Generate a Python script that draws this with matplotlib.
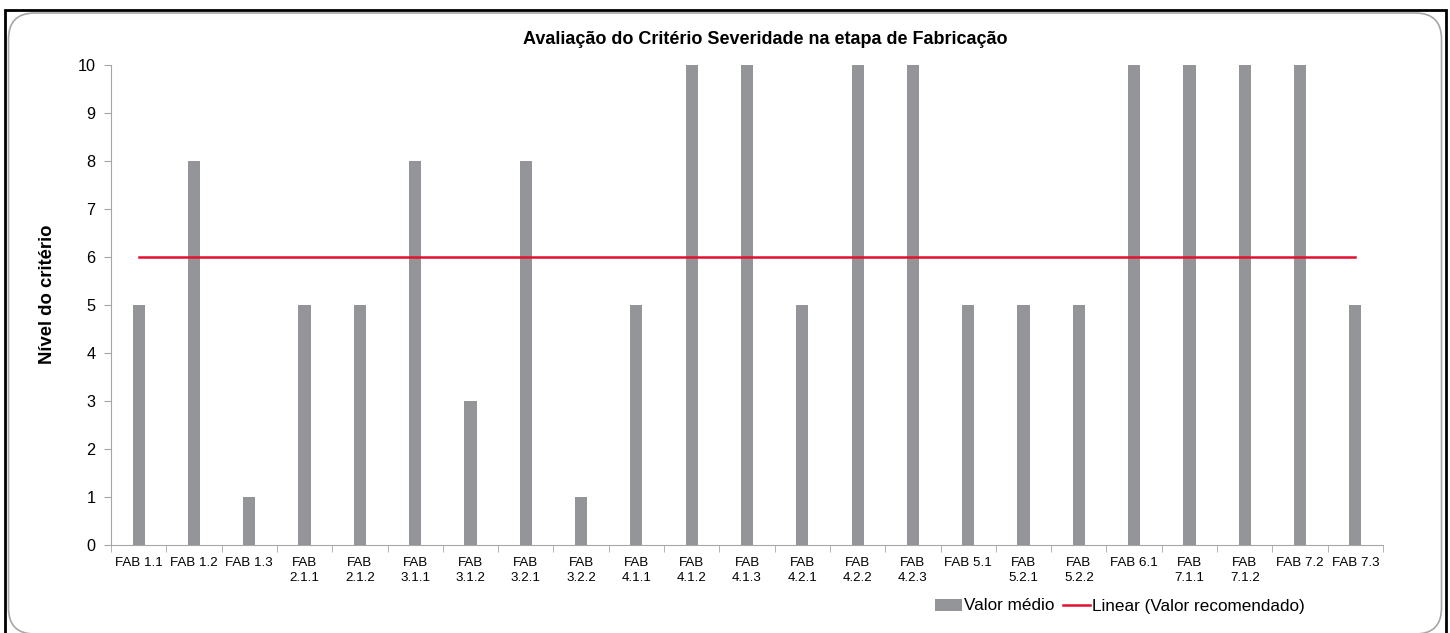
import matplotlib.pyplot as plt
from matplotlib.patches import FancyBboxPatch, Rectangle
from matplotlib.lines import Line2D
from matplotlib.patches import Patch

categorias = ["FAB 1.1", "FAB 1.2", "FAB 1.3", "FAB\n2.1.1", "FAB\n2.1.2",
              "FAB\n3.1.1", "FAB\n3.1.2", "FAB\n3.2.1", "FAB\n3.2.2", "FAB\n4.1.1",
              "FAB\n4.1.2", "FAB\n4.1.3", "FAB\n4.2.1", "FAB\n4.2.2", "FAB\n4.2.3",
              "FAB 5.1", "FAB\n5.2.1", "FAB\n5.2.2", "FAB 6.1", "FAB\n7.1.1",
              "FAB\n7.1.2", "FAB 7.2", "FAB 7.3"]
valor_medio = [5, 8, 1, 5, 5, 8, 3, 8, 1, 5, 10, 10, 5, 10, 10, 5, 5, 5, 10, 10, 10, 10, 5]
valor_recomendado = 6

plt.rcParams['font.family'] = ['Liberation Sans', 'DejaVu Sans']

W, H = 1450, 633
fig = plt.figure(figsize=(W / 100, H / 100), dpi=100)

# outer frame and rounded chart area (pixel coords converted to figure fractions)
fig.patches.append(Rectangle((5 / W, -0.01), 1441 / W, 1 - 10 / H + 0.01,
                             transform=fig.transFigure, fill=False,
                             edgecolor='black', linewidth=2.0))
fig.patches.append(FancyBboxPatch((8.5 / W, 1 - 634 / H), 1433 / W, 621 / H,
                                  boxstyle="round,pad=0,rounding_size=0.018",
                                  transform=fig.transFigure, fill=False,
                                  edgecolor='#a6a6a6', linewidth=1.2,
                                  mutation_aspect=W / H))

ax = fig.add_axes([111 / W, 1 - 545 / H, 1272 / W, 480 / H])
x = list(range(len(categorias)))
ax.bar(x, valor_medio, width=0.22, color='#939598', zorder=2)
ax.plot([x[0], x[-1]], [valor_recomendado, valor_recomendado],
        color='#e2102e', linewidth=1.8, zorder=3)

ax.set_xlim(-0.5, len(categorias) - 0.5)
ax.set_ylim(0, 10)
ax.set_yticks(range(0, 11))
ax.tick_params(axis='y', labelsize=11.7, length=5, color='#a6a6a6', pad=6)

ax.set_xticks(x)
ax.set_xticklabels(categorias, fontsize=9.6, linespacing=1.3)
ax.tick_params(axis='x', length=0, pad=9)
ax.set_xticks([i - 0.5 for i in range(len(categorias) + 1)], minor=True)
ax.tick_params(axis='x', which='minor', length=5, color='#a6a6a6')

for side in ['top', 'right']:
    ax.spines[side].set_visible(False)
ax.spines['left'].set_color('#a6a6a6')
ax.spines['bottom'].set_color('#a6a6a6')

fig.text(765 / W, 1 - 40 / H, "Avaliação do Critério Severidade na etapa de Fabricação",
         fontsize=13, fontweight='bold', ha='center', va='center')
fig.text(47 / W, 1 - 294 / H, "Nível do critério", fontsize=13.3, fontweight='bold',
         rotation=90, ha='center', va='center')

handles = [Patch(facecolor='#939598', edgecolor='none', label='Valor médio'),
           Line2D([0], [0], color='#e2102e', linewidth=1.8, label='Linear (Valor recomendado)')]
fig.legend(handles=handles, loc='center', bbox_to_anchor=(1120 / W, 1 - 606 / H), ncol=2,
           frameon=False, fontsize=12.3, handlelength=1.6, handletextpad=0.1,
           columnspacing=0.5)

fig.savefig('out.png', dpi=100)
